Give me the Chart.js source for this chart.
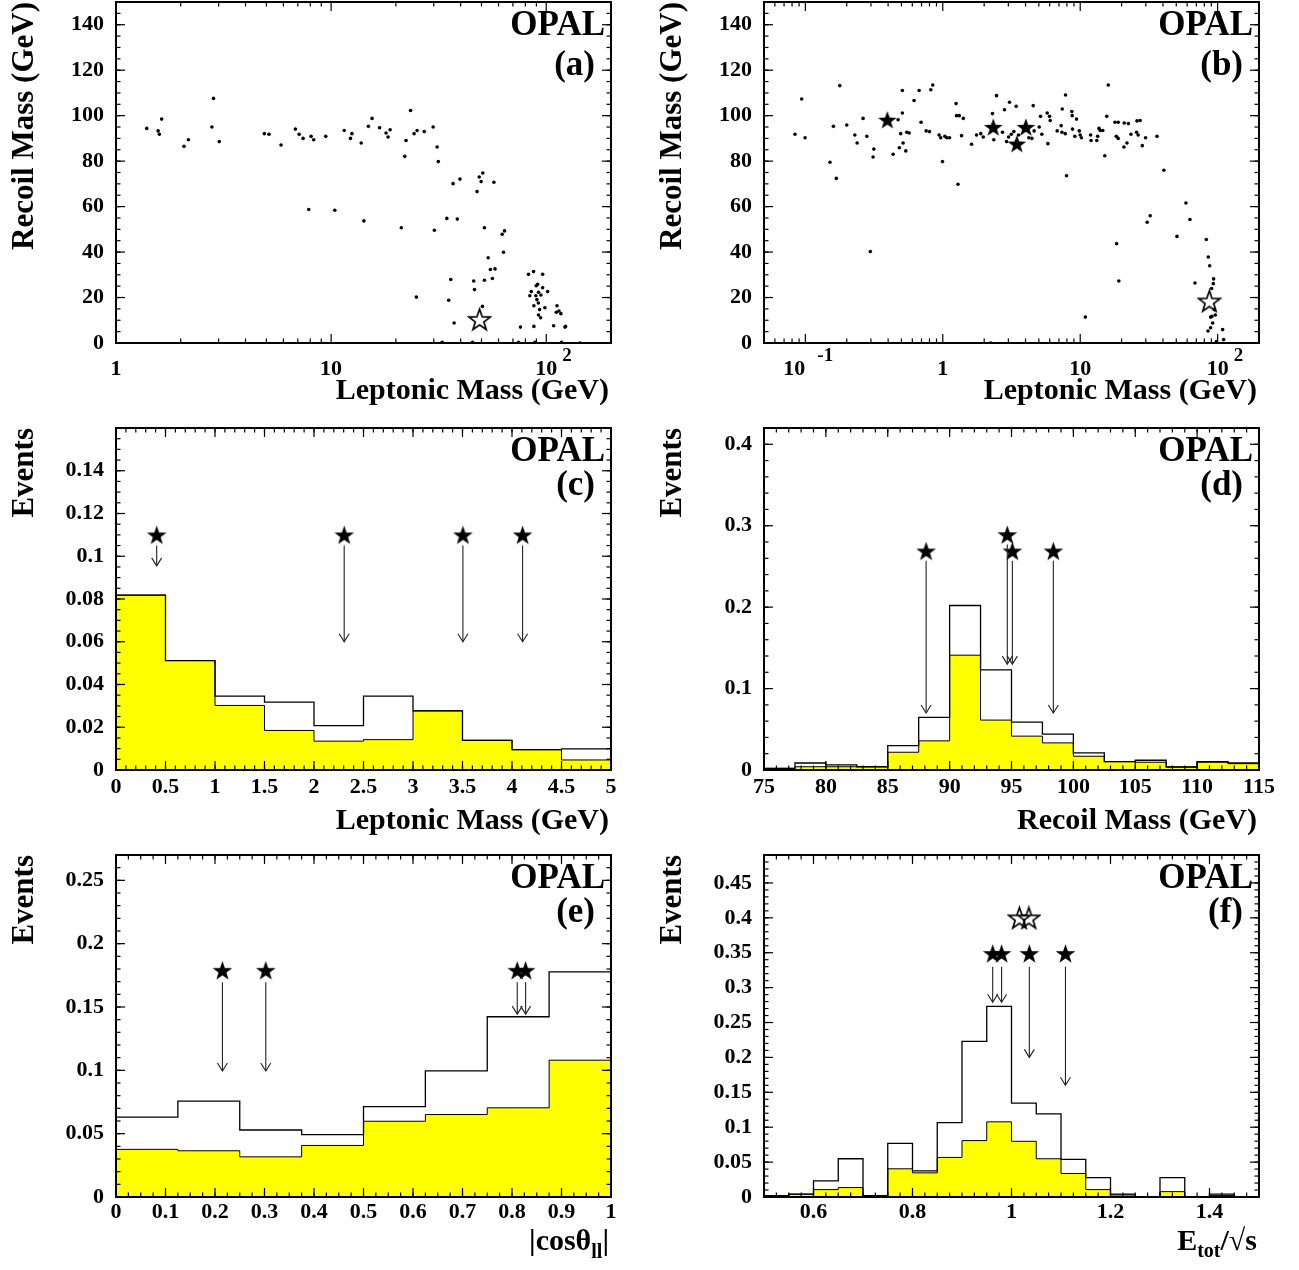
<!DOCTYPE html>
<html>
<head>
<meta charset="utf-8">
<script src="https://cdn.jsdelivr.net/npm/chart.js@4.4.1/dist/chart.umd.min.js"></script>
<style>
body { margin: 0; background: #fff; }
#page { position: relative; width: 1299px; height: 1270px; overflow: hidden; }
#page canvas { position: absolute; }
</style>
</head>
<body>
<div id="page">
  <canvas id="panelA"></canvas>
  <canvas id="panelB"></canvas>
  <canvas id="panelC"></canvas>
  <canvas id="panelD"></canvas>
  <canvas id="panelE"></canvas>
  <canvas id="panelF"></canvas>
</div>
<script>
// ===== data =====
// (a) recoil mass vs leptonic mass
const aLepMass = [1.39,1.57,1.59,1.63,2.07,2.17,2.79,2.84,3.02,4.89,5.14,5.85,6.82,7.1,7.41,7.87,8.07,8.3,9.44,10.4,11.5,12.3,12.5,13.8,14.2,14.9,15.5,16.8,18.0,18.4,18.8,21.2,22.0,22.3,23.4,24.3,24.9,25.1,27.1,29.8,30.2,31.1,31.5,32.8,34.5,35.2,36.0,36.9,37.3,38.6,39.7,45.4,46.0,46.4,47.7,48.8,49.8,50.7,50.5,51.6,51.6,53.7,55.0,56.2,57.8,57.1,62.4,64.0,63.3,74.3,75.9,82.7,83.9,85.2,87.3,87.6,87.6,88.6,89.5,89.8,90.5,91.2,91.9,92.1,92.1,93.1,94.2,94.4,96.2,96.2,98.6,101.5,108.2,112.2,111.4,114.6,117.0,117.8,122.2,123,143.5];
const aRecoil = [94.4,93.3,91.8,98.5,86.5,89.4,95,107.6,88.6,92.1,91.8,87.1,94.1,91.8,90,58.7,90.9,89.4,90.9,58.4,93.5,90,92.1,88,53.7,95.3,98.8,94.7,92.4,90.6,93.8,50.7,82.1,89.1,102.3,92.1,20.2,93.5,93,95,49.6,86.2,79.8,0.3,54.8,18.8,27.9,70.1,8.8,54.5,72.1,0.3,27.3,23.5,66.6,73,71,74.8,16.1,50.7,27.6,37.5,32.3,28.4,32.6,70.7,47.8,49.3,39.9,0.3,7,30.2,20.8,22.6,31.4,16.4,7.3,0.3,20.8,25.2,19.1,25.8,17.6,22.3,12.3,14.7,11.1,21.1,24.3,30.2,15.5,22.6,7.6,16.4,13.5,14.1,12.9,0.3,7,7.3,0];
const aOpenLep = [49];
const aOpenRecoil = [10.4];

// (b) recoil mass vs leptonic mass
const bLepMass = [0.084,0.094,0.0995,0.151,0.160,0.168,0.178,0.200,0.229,0.238,0.263,0.280,0.297,0.311,0.315,0.435,0.473,0.483,0.494,0.508,0.508,0.514,0.538,0.547,0.569,0.618,0.673,0.695,0.757,0.800,0.818,0.845,0.940,0.966,0.995,1.035,1.07,1.12,1.25,1.26,1.29,1.32,1.37,1.41,1.62,1.76,1.89,1.97,2.24,2.30,2.35,2.46,2.72,2.81,2.91,3.01,3.06,3.15,3.29,3.42,3.56,4.23,4.45,4.55,4.62,5.03,5.14,5.26,5.75,5.82,5.98,6.05,6.80,7.27,7.40,7.36,7.78,7.82,7.95,8.69,8.74,8.79,9.14,9.40,9.84,10,10.2,10.9,11.9,12.0,13.2,13.4,13.7,14.0,14.6,15.1,15.6,16.0,17.9,18.3,18.4,18.9,18.9,19.1,20.8,20.9,21.9,22.4,23.4,25.7,25.9,26.4,27.3,28.3,29.9,30.7,32.3,36.2,40.6,50.6,58.8,62.9,68.4,82.7,85.5,87.5,85.1,88.9,88.9,90.4,90.9,92.0,93.0,93.5,94.6,96.2,97.8,108.7,110.6];
const bRecoil = [91.8,107.3,90.3,79.5,95.3,72.4,113.2,95.9,91.5,88,98.8,90.9,40.2,81.8,85.3,83,98.2,85.9,92.1,111.1,101.2,88,84.5,92.7,92.4,106.7,111.1,97.1,93.3,93,111.4,113.5,91.5,90.3,79.8,90.9,90.3,90.3,105.3,100,69.8,100,91.2,98.8,87.4,91.5,92.1,90.6,0,100.9,89.4,108.8,92.7,102.6,88.6,90.6,105.9,91.8,93,104.1,91.5,90.3,90,104.4,93.3,95,99.7,91.8,101.2,87.7,99.7,97.9,93.3,95.6,102.9,92.7,92.1,109.1,73.6,101.8,100,94.1,90.9,98.5,93.3,91.5,90.3,11.4,91.5,89.1,89.1,90.9,94.4,93.5,93.5,82.4,99.7,113.5,97.1,90.9,43.7,90,97.1,27.3,86.2,96.8,88,96.5,91.8,92.7,97.7,91.5,97.9,86.8,90.3,53.1,56,90.9,76,46.9,61.6,54.3,26.4,45.5,37.8,34,5.3,6.7,11.4,24,11.7,8.8,26.1,28.2,14.7,12.3,0.6,5.9,1.5];
const bCandLep = [0.395, 2.33, 3.46, 4.02];
const bCandRecoil = [98.2, 95, 87.7, 95];
const bOpenLep = [87];
const bOpenRecoil = [18.5];

// (c) leptonic mass
const cEdges = [0,0.5,1,1.5,2,2.5,3,3.5,4,4.5,5];
const cShaded = [0.0818,0.0512,0.0302,0.0185,0.0135,0.0142,0.0277,0.0139,0.0095,0.0047];
const cTotal = [0.0818,0.0512,0.0346,0.0318,0.0208,0.0346,0.0277,0.0139,0.0095,0.0099];
const cCandX = [0.411, 2.305, 3.504, 4.107];
const cCandY = [0.11, 0.11, 0.11, 0.11];
const cArrowTop = [0.105, 0.105, 0.105, 0.105];
const cArrowEnd = [0.0955, 0.06, 0.06, 0.06];

// (d) recoil mass
const dEdges = [75,77.5,80,82.5,85,87.5,90,92.5,95,97.5,100,102.5,105,107.5,110,112.5,115];
const dShaded = [0.002,0.004,0.004,0.004,0.0218,0.0358,0.141,0.0613,0.0416,0.0333,0.0169,0.0103,0.0095,0.0037,0.0095,0.0078];
const dTotal = [0.002,0.0086,0.0062,0.004,0.030,0.0646,0.202,0.123,0.0588,0.044,0.021,0.0103,0.012,0.0037,0.0103,0.0086];
const dCandX = [88.1, 94.66, 95.07, 98.38];
const dCandY = [0.269, 0.289, 0.269, 0.269];
const dArrowTop = [0.257, 0.277, 0.257, 0.257];
const dArrowEnd = [0.070, 0.13, 0.13, 0.070];

// (e) |cos theta_ll|
const eEdges = [0,0.125,0.25,0.375,0.5,0.625,0.75,0.875,1];
const eShaded = [0.0376,0.0365,0.0317,0.0407,0.0598,0.0651,0.0704,0.108];
const eTotal = [0.063,0.0757,0.0529,0.0492,0.0714,0.0995,0.1423,0.1778];
const eCandX = [0.215, 0.3026, 0.8106, 0.8275];
const eCandY = [0.179, 0.179, 0.179, 0.179];
const eArrowTop = [0.1696, 0.1696, 0.1696, 0.1696];
const eArrowEnd = [0.0995, 0.0995, 0.1444, 0.1444];

// (f) E_tot / sqrt(s)
const fEdges = [0.5,0.55,0.6,0.65,0.7,0.75,0.8,0.85,0.9,0.95,1,1.05,1.1,1.15,1.2,1.25,1.3,1.35,1.4,1.45,1.5];
const fShaded = [0.002,0.004,0.0106,0.0135,0.002,0.0404,0.0346,0.0567,0.0808,0.1077,0.0798,0.0548,0.0337,0.0106,0.0029,0,0.0077,0,0.002,0];
const fTotal = [0.002,0.004,0.023,0.0548,0.002,0.0769,0.0375,0.1067,0.223,0.273,0.1346,0.119,0.0538,0.0279,0.004,0,0.0279,0,0.004,0];
const fCandX = [0.962, 0.980, 1.036, 1.109];
const fCandY = [0.349, 0.349, 0.349, 0.349];
const fArrowTop = [0.33, 0.33, 0.33, 0.33];
const fArrowEnd = [0.279, 0.279, 0.2, 0.16];
const fOpenX = [1.016, 1.035];
const fOpenY = [0.40, 0.40];

// ===== tick labels =====
const massYTicks = [0,20,40,60,80,100,120,140];
const massYLabels = ['0','20','40','60','80','100','120','140'];
const aXTicks = [1, 10, 100];
const aXLabels = ['1', '10', '10'];
const aXExp = ['', '', '2'];
const bXTicks = [0.1, 1, 10, 100];
const bXLabels = ['10    ', '1', '10', '10'];
const bXExp = ['-1', '', '', '2'];
const cXTicks = [0,0.5,1,1.5,2,2.5,3,3.5,4,4.5,5];
const cXLabels = ['0','0.5','1','1.5','2','2.5','3','3.5','4','4.5','5'];
const cYTicks = [0,0.02,0.04,0.06,0.08,0.1,0.12,0.14];
const cYLabels = ['0','0.02','0.04','0.06','0.08','0.1','0.12','0.14'];
const dXTicks = [75,80,85,90,95,100,105,110,115];
const dXLabels = ['75','80','85','90','95','100','105','110','115'];
const dYTicks = [0,0.1,0.2,0.3,0.4];
const dYLabels = ['0','0.1','0.2','0.3','0.4'];
const eXTicks = [0,0.1,0.2,0.3,0.4,0.5,0.6,0.7,0.8,0.9,1];
const eXLabels = ['0','0.1','0.2','0.3','0.4','0.5','0.6','0.7','0.8','0.9','1'];
const eYTicks = [0,0.05,0.1,0.15,0.2,0.25];
const eYLabels = ['0','0.05','0.1','0.15','0.2','0.25'];
const fXTicks = [0.6,0.8,1,1.2,1.4];
const fXLabels = ['0.6','0.8','1','1.2','1.4'];
const fYTicks = [0,0.05,0.1,0.15,0.2,0.25,0.3,0.35,0.4,0.45];
const fYLabels = ['0','0.05','0.1','0.15','0.2','0.25','0.3','0.35','0.4','0.45'];

// ===== helpers =====
const SERIF = '"Liberation Serif", "Times New Roman", serif';
const YELLOW = '#ffff00';

function points(xs, ys) {
    return xs.map((x, i) => ({x: x, y: ys[i]}));
}

// left bin edges carry the bin content, last edge closes the step
function histPoints(edges, vals) {
    return edges.map((e, i) => ({x: e, y: vals[Math.min(i, vals.length - 1)]}));
}

function stepTicks(min, max, step) {
    const out = [];
    const n = Math.round((max - min) / step);
    for (let i = 0; i <= n; i++) out.push(+(min + i * step).toFixed(6));
    return out;
}

function logMinors(min, max) {
    const out = [];
    for (let d = -3; d <= 3; d++) {
        for (let k = 2; k <= 9; k++) {
            const v = k * Math.pow(10, d);
            if (v >= min && v <= max) out.push(v);
        }
    }
    return out;
}

function makeStar(size, filled) {
    const c = document.createElement('canvas');
    c.width = size;
    c.height = size;
    const g = c.getContext('2d');
    const r = size / 2 - 1.2;
    const ri = r * 0.4;
    const cx = size / 2, cy = size / 2 + r * 0.095;
    g.beginPath();
    for (let i = 0; i < 10; i++) {
        const ang = -Math.PI / 2 + i * Math.PI / 5;
        const rr = i % 2 ? ri : r;
        g.lineTo(cx + rr * Math.cos(ang), cy + rr * Math.sin(ang));
    }
    g.closePath();
    if (filled) {
        g.fillStyle = '#000';
        g.fill();
    } else {
        g.strokeStyle = '#000';
        g.lineWidth = 1.7;
        g.stroke();
    }
    return c;
}

const starSmall = makeStar(23, true);
const starScatter = makeStar(22, true);
const starOpen = makeStar(25, false);

function axis(type, min, max, ticks, labels, size, pad) {
    return {
        type: type,
        min: min,
        max: max,
        grid: {display: false, drawTicks: false},
        border: {display: false},
        ticks: {
            font: {family: SERIF, weight: 'bold', size: 22},
            color: '#000',
            padding: pad,
            autoSkip: false,
            maxRotation: 0,
            minRotation: 0,
            callback: (v, i) => labels[i]
        },
        afterBuildTicks: s => { s.ticks = ticks.map(v => ({value: v})); },
        afterFit: s => {
            if (s.isHorizontal()) s.height = size;
            else s.width = size;
            // label overhang must not shrink the plot frame
            s.paddingTop = 0;
            s.paddingBottom = 0;
            s.paddingLeft = 0;
            s.paddingRight = 0;
        }
    };
}

function shadedSet(edges, vals) {
    return {
        data: histPoints(edges, vals), stepped: true, fill: 'origin',
        backgroundColor: YELLOW, borderColor: '#000', borderWidth: 1,
        pointRadius: 0, order: 3
    };
}

function totalSet(edges, vals) {
    return {
        data: histPoints(edges, vals), stepped: true, fill: false,
        borderColor: '#000', borderWidth: 1.3, pointRadius: 0, order: 2
    };
}

function starSet(xs, ys, style) {
    return {
        data: points(xs, ys), showLine: false, pointStyle: style,
        pointRadius: 8, order: 1
    };
}

function dotSet(xs, ys) {
    return {
        data: points(xs, ys), showLine: false, pointStyle: 'circle',
        pointRadius: 1.8, pointBorderWidth: 0, pointBackgroundColor: '#000', order: 4
    };
}

// frame, inward ticks, arrows and text for each panel
const decorById = {};

function line(ctx, x1, y1, x2, y2) {
    ctx.beginPath();
    ctx.moveTo(x1, y1);
    ctx.lineTo(x2, y2);
    ctx.stroke();
}

function drawRuns(ctx, runs, right, baseline) {
    let total = 0;
    runs.forEach(r => {
        ctx.font = 'bold ' + r.s + 'px ' + SERIF;
        total += ctx.measureText(r.t).width;
    });
    let x = right - total;
    ctx.textAlign = 'left';
    runs.forEach(r => {
        ctx.font = 'bold ' + r.s + 'px ' + SERIF;
        ctx.fillText(r.t, x, baseline + (r.dy || 0));
        x += ctx.measureText(r.t).width;
    });
}

const opalDecor = {
    id: 'opalDecor',
    afterDraw(chart) {
        const d = decorById[chart.canvas.id];
        const ctx = chart.ctx;
        const area = chart.chartArea;
        const xs = chart.scales.x, ys = chart.scales.y;
        ctx.save();
        ctx.strokeStyle = '#000';
        ctx.fillStyle = '#000';

        // candidate arrows
        if (d.arrows) {
            ctx.lineWidth = 1.1;
            ctx.strokeStyle = '#222';
            d.arrows.x.forEach((v, i) => {
                const px = xs.getPixelForValue(v);
                const y1 = ys.getPixelForValue(d.arrows.top[i]);
                const y2 = ys.getPixelForValue(d.arrows.end[i]);
                line(ctx, px, y1, px, y2);
                ctx.beginPath();
                ctx.moveTo(px - 5, y2 - 8);
                ctx.lineTo(px, y2);
                ctx.lineTo(px + 5, y2 - 8);
                ctx.stroke();
            });
        }

        // ticks on all four sides
        ctx.strokeStyle = '#000';
        ctx.lineWidth = 1.2;
        const tick = (scale, values, len) => {
            values.forEach(v => {
                const p = scale.getPixelForValue(v);
                if (scale.isHorizontal()) {
                    if (p < area.left - 0.5 || p > area.right + 0.5) return;
                    line(ctx, p, area.bottom, p, area.bottom - len);
                    line(ctx, p, area.top, p, area.top + len);
                } else {
                    if (p < area.top - 0.5 || p > area.bottom + 0.5) return;
                    line(ctx, area.left, p, area.left + len, p);
                    line(ctx, area.right, p, area.right - len, p);
                }
            });
        };
        tick(xs, d.xMinor, 4.5);
        tick(xs, d.xMajor, 9);
        tick(ys, d.yMinor, 4.5);
        tick(ys, d.yMajor, 9);

        ctx.lineWidth = 2;
        ctx.strokeRect(area.left, area.top, area.right - area.left, area.bottom - area.top);

        // exponents of the log axis labels
        if (d.xExp) {
            ctx.font = 'bold 19px ' + SERIF;
            ctx.textAlign = 'left';
            ctx.textBaseline = 'alphabetic';
            d.xMajor.forEach((v, i) => {
                if (!d.xExp[i]) return;
                ctx.fillText(d.xExp[i], xs.getPixelForValue(v) + d.expDx[i], area.bottom + 18);
            });
        }

        // OPAL tag and panel letter
        ctx.textBaseline = 'alphabetic';
        ctx.textAlign = 'right';
        ctx.font = 'bold 35px ' + SERIF;
        ctx.fillText('OPAL', area.right - 6, area.top + 33);
        ctx.fillText(d.label, area.right - 16, area.top + d.labelDy);

        // axis titles
        drawRuns(ctx, d.xTitle, area.right - 2, area.bottom + d.xTitleDy);
        ctx.save();
        ctx.translate(area.left - 83, area.top);
        ctx.rotate(-Math.PI / 2);
        ctx.textAlign = 'right';
        ctx.font = 'bold 31px ' + SERIF;
        ctx.fillText(d.yTitle, 0, 0);
        ctx.restore();

        ctx.restore();
    }
};

function makePanel(id, g, datasets, xAxis, yAxis, decor) {
    const canvas = document.getElementById(id);
    canvas.width = g.w;
    canvas.height = g.h;
    canvas.style.width = g.w + 'px';
    canvas.style.height = g.h + 'px';
    canvas.style.left = g.left + 'px';
    canvas.style.top = g.top + 'px';
    decorById[id] = decor;
    return new Chart(canvas, {
        type: 'line',
        data: {datasets: datasets},
        options: {
            responsive: false,
            animation: false,
            events: [],
            layout: {autoPadding: false, padding: {left: 0, top: g.padTop, right: g.padRight, bottom: 0}},
            scales: {x: xAxis, y: yAxis},
            plugins: {legend: {display: false}, tooltip: {enabled: false}}
        },
        plugins: [opalDecor]
    });
}

const leptonicTitle = [{t: 'Leptonic Mass (GeV)', s: 30}];
const recoilTitle = [{t: 'Recoil Mass (GeV)', s: 30}];

// ===== panels =====
makePanel('panelA', {left: 0, top: 0, w: 649, h: 424, padTop: 2, padRight: 38},
    [dotSet(aLepMass, aRecoil), starSet(aOpenLep, aOpenRecoil, starOpen)],
    axis('logarithmic', 1, 200, aXTicks, aXLabels, 81, 13),
    axis('linear', 0, 150, massYTicks, massYLabels, 116, 12),
    {label: '(a)', labelDy: 73, xTitle: leptonicTitle, xTitleDy: 56, yTitle: 'Recoil Mass (GeV)',
     xMajor: aXTicks, xMinor: logMinors(1, 200), yMajor: massYTicks, yMinor: stepTicks(0, 150, 5),
     xExp: aXExp, expDx: [0, 0, 16]});

makePanel('panelB', {left: 649, top: 0, w: 650, h: 424, padTop: 2, padRight: 40},
    [dotSet(bLepMass, bRecoil), starSet(bCandLep, bCandRecoil, starScatter), starSet(bOpenLep, bOpenRecoil, starOpen)],
    axis('logarithmic', 0.05, 200, bXTicks, bXLabels, 81, 13),
    axis('linear', 0, 150, massYTicks, massYLabels, 115, 12),
    {label: '(b)', labelDy: 73, xTitle: leptonicTitle, xTitleDy: 56, yTitle: 'Recoil Mass (GeV)',
     xMajor: bXTicks, xMinor: logMinors(0.05, 200), yMajor: massYTicks, yMinor: stepTicks(0, 150, 5),
     xExp: bXExp, expDx: [12, 0, 0, 16]});

makePanel('panelC', {left: 0, top: 424, w: 649, h: 424, padTop: 4, padRight: 38},
    [shadedSet(cEdges, cShaded), totalSet(cEdges, cTotal), starSet(cCandX, cCandY, starSmall)],
    axis('linear', 0, 5, cXTicks, cXLabels, 78, 4),
    axis('linear', 0, 0.16, cYTicks, cYLabels, 116, 12),
    {label: '(c)', labelDy: 67, xTitle: leptonicTitle, xTitleDy: 59, yTitle: 'Events',
     xMajor: cXTicks, xMinor: stepTicks(0, 5, 0.1), yMajor: cYTicks, yMinor: stepTicks(0, 0.16, 0.005),
     arrows: {x: cCandX, top: cArrowTop, end: cArrowEnd}});

makePanel('panelD', {left: 649, top: 424, w: 650, h: 424, padTop: 4, padRight: 40},
    [shadedSet(dEdges, dShaded), totalSet(dEdges, dTotal), starSet(dCandX, dCandY, starSmall)],
    axis('linear', 75, 115, dXTicks, dXLabels, 78, 4),
    axis('linear', 0, 0.42, dYTicks, dYLabels, 115, 12),
    {label: '(d)', labelDy: 67, xTitle: recoilTitle, xTitleDy: 59, yTitle: 'Events',
     xMajor: dXTicks, xMinor: stepTicks(75, 115, 1), yMajor: dYTicks, yMinor: stepTicks(0, 0.42, 0.02),
     arrows: {x: dCandX, top: dArrowTop, end: dArrowEnd}});

makePanel('panelE', {left: 0, top: 848, w: 649, h: 422, padTop: 7, padRight: 38},
    [shadedSet(eEdges, eShaded), totalSet(eEdges, eTotal), starSet(eCandX, eCandY, starSmall)],
    axis('linear', 0, 1, eXTicks, eXLabels, 73, 2.5),
    axis('linear', 0, 0.27, eYTicks, eYLabels, 116, 12),
    {label: '(e)', labelDy: 67,
     xTitle: [{t: '|cos\u03b8', s: 30}, {t: 'll', s: 20, dy: 8}, {t: '|', s: 30}], xTitleDy: 53, yTitle: 'Events',
     xMajor: eXTicks, xMinor: stepTicks(0, 1, 0.025), yMajor: eYTicks, yMinor: stepTicks(0, 0.27, 0.01),
     arrows: {x: eCandX, top: eArrowTop, end: eArrowEnd}});

makePanel('panelF', {left: 649, top: 848, w: 650, h: 422, padTop: 7, padRight: 40},
    [shadedSet(fEdges, fShaded), totalSet(fEdges, fTotal), starSet(fCandX, fCandY, starSmall), starSet(fOpenX, fOpenY, starOpen)],
    axis('linear', 0.5, 1.5, fXTicks, fXLabels, 73, 2.5),
    axis('linear', 0, 0.49, fYTicks, fYLabels, 115, 12),
    {label: '(f)', labelDy: 67,
     xTitle: [{t: 'E', s: 30}, {t: 'tot', s: 20, dy: 7}, {t: '/\u221as', s: 30}], xTitleDy: 53, yTitle: 'Events',
     xMajor: fXTicks, xMinor: stepTicks(0.5, 1.5, 0.025), yMajor: fYTicks, yMinor: stepTicks(0, 0.49, 0.01),
     arrows: {x: fCandX, top: fArrowTop, end: fArrowEnd}});
</script>
</body>
</html>
